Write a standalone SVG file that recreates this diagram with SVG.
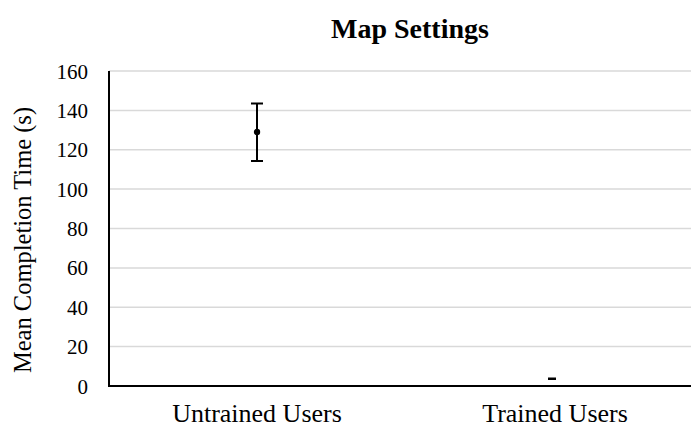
<svg xmlns="http://www.w3.org/2000/svg" width="691" height="431" viewBox="0 0 691 431">
<style>
text{font-family:"Liberation Serif","Times New Roman",serif;fill:#000}
.grid{stroke:#d9d9d9;stroke-width:1.5}
.tick{font-size:21px;text-anchor:end}
.cat{font-size:26px;text-anchor:middle}
.eb{stroke:#000;stroke-width:2;fill:none}
</style>
<rect width="691" height="431" fill="#fff"/>
<text x="410" y="38" font-size="28" font-weight="bold" text-anchor="middle">Map Settings</text>
<g id="gridlines">
<line class="grid" x1="109" y1="71" x2="691" y2="71"/>
<line class="grid" x1="109" y1="110.4" x2="691" y2="110.4"/>
<line class="grid" x1="109" y1="149.8" x2="691" y2="149.8"/>
<line class="grid" x1="109" y1="189.1" x2="691" y2="189.1"/>
<line class="grid" x1="109" y1="228.5" x2="691" y2="228.5"/>
<line class="grid" x1="109" y1="267.9" x2="691" y2="267.9"/>
<line class="grid" x1="109" y1="307.3" x2="691" y2="307.3"/>
<line class="grid" x1="109" y1="346.6" x2="691" y2="346.6"/>
</g>
<g id="axes">
<line x1="109" y1="71" x2="109" y2="387" stroke="#000" stroke-width="2"/>
<line x1="108" y1="386" x2="691" y2="386" stroke="#000" stroke-width="2"/>
</g>
<g id="ticklabels">
<text class="tick" x="88" y="78.5">160</text>
<text class="tick" x="88" y="117.9">140</text>
<text class="tick" x="88" y="157.3">120</text>
<text class="tick" x="88" y="196.6">100</text>
<text class="tick" x="88" y="236">80</text>
<text class="tick" x="88" y="275.4">60</text>
<text class="tick" x="88" y="314.8">40</text>
<text class="tick" x="88" y="354.1">20</text>
<text class="tick" x="88" y="393.5">0</text>
</g>
<text transform="translate(31,240) rotate(-90)" font-size="24.5" text-anchor="middle">Mean Completion Time (s)</text>
<g id="untrained">
<line class="eb" x1="257" y1="103.5" x2="257" y2="161"/>
<line class="eb" x1="251" y1="103.5" x2="263" y2="103.5"/>
<line class="eb" x1="251" y1="161" x2="263" y2="161"/>
<circle cx="257" cy="132" r="3.2" fill="#000"/>
<text class="cat" x="257" y="422">Untrained Users</text>
</g>
<g id="trained">
<rect x="548" y="377.5" width="8" height="2.5" fill="#000"/>
<text class="cat" x="555" y="422">Trained Users</text>
</g>
</svg>
